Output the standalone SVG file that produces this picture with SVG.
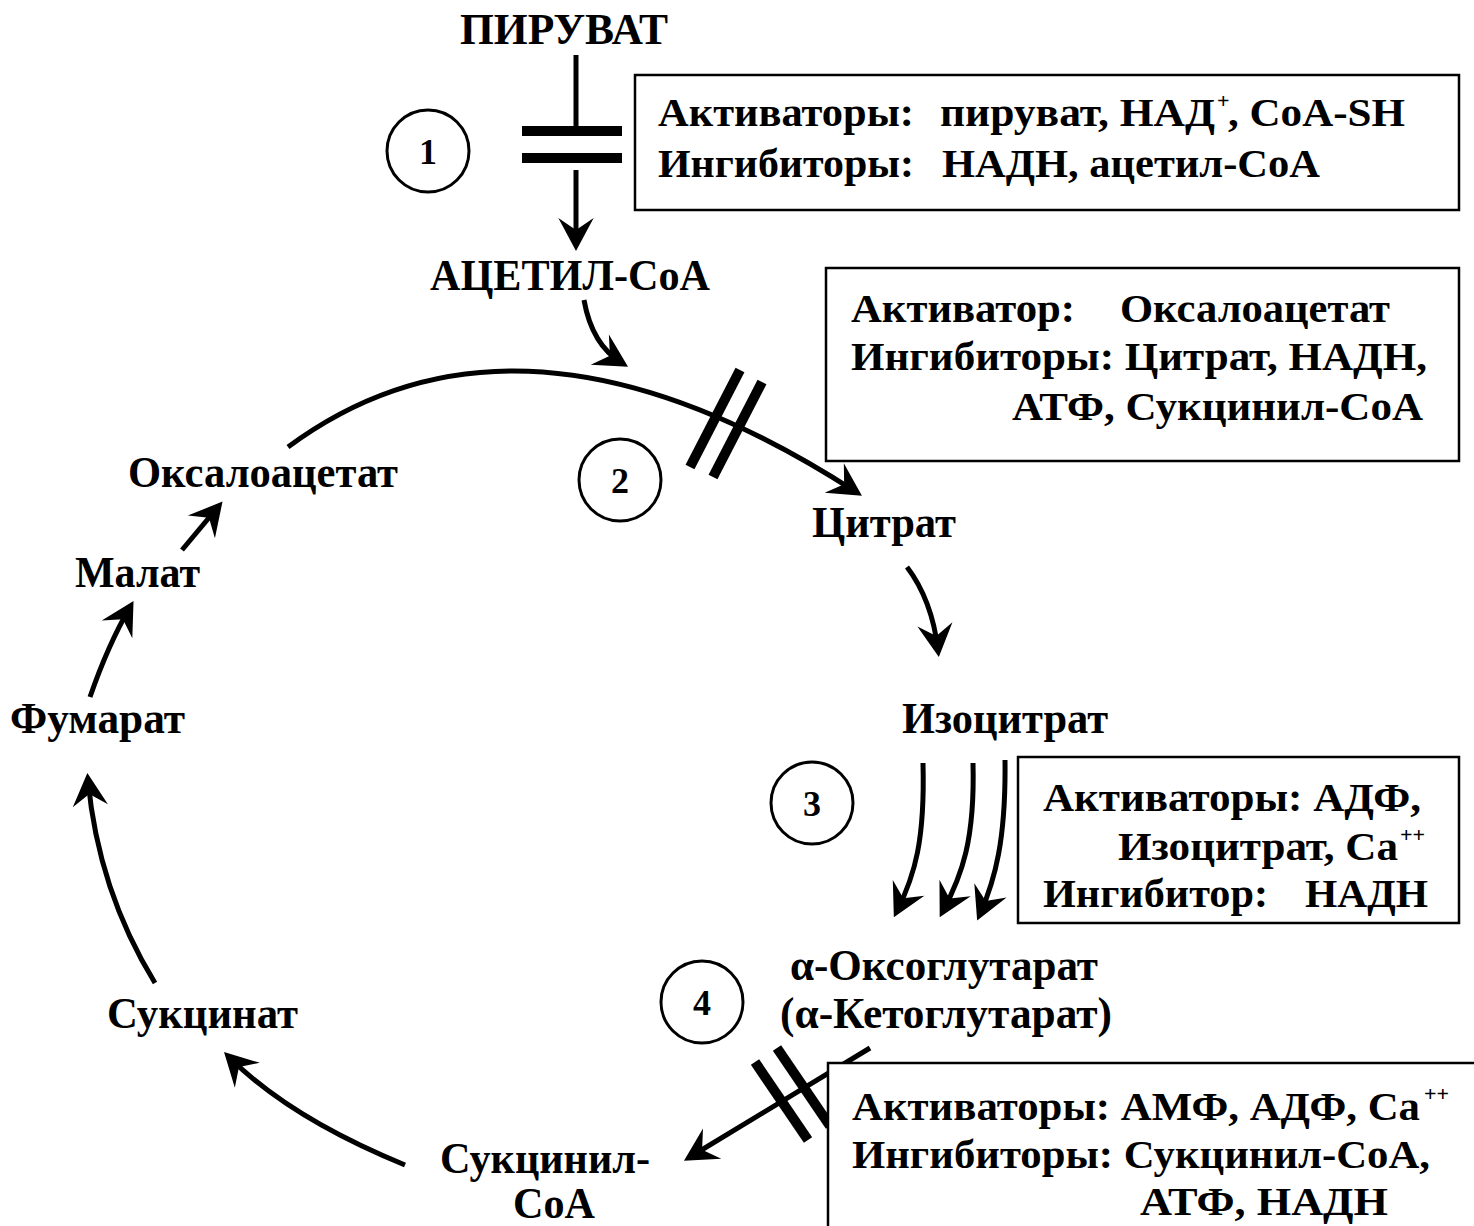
<svg xmlns="http://www.w3.org/2000/svg" width="1474" height="1226" viewBox="0 0 1474 1226">
<defs>
<style>
text{font-family:"Liberation Serif","Times New Roman",serif;font-weight:bold;fill:#000}
.lbl{font-size:44px}
.box{font-size:40px}
.num{font-size:36px;text-anchor:middle}
.sup{font-size:22px}
.c{fill:none;stroke:#000;stroke-width:5}
.bar{stroke:#000;stroke-width:10}
.frame{fill:#fff;stroke:#000;stroke-width:2.5}
.circ{fill:#fff;stroke:#000;stroke-width:3}
</style>
<marker id="ah" markerUnits="userSpaceOnUse" markerWidth="40" markerHeight="40" viewBox="-24 -16 34 32" refX="0" refY="0" orient="auto">
<path d="M6,0 L-22,-15 L-12,0 L-22,15 Z" fill="#000"/>
</marker>
</defs>
<rect width="1474" height="1226" fill="#fff"/>

<g id="connectors">
<line class="c" x1="576" y1="55" x2="576" y2="128"/>
<line class="bar" x1="522" y1="131" x2="622" y2="131"/>
<line class="bar" x1="522" y1="158" x2="622" y2="158"/>
<path class="c" d="M576,170 L576,244" marker-end="url(#ah)"/>
<path class="c" d="M584,300 Q592,345 622,363" marker-end="url(#ah)"/>
<path class="c" d="M288,447 Q520,275 856,492" marker-end="url(#ah)"/>
<line class="bar" x1="740" y1="370" x2="690" y2="467"/>
<line class="bar" x1="762" y1="382" x2="713" y2="477"/>
<path class="c" d="M907,567 Q932,600 938,650" marker-end="url(#ah)"/>
<path class="c" d="M923,763 C925,840 915,875 897,911" marker-end="url(#ah)"/>
<path class="c" d="M973,763 C975,840 962,875 943,911" marker-end="url(#ah)"/>
<path class="c" d="M1005,760 C1006,840 995,880 980,914" marker-end="url(#ah)"/>
<path class="c" d="M870,1048 L690,1157" marker-end="url(#ah)"/>
<line class="bar" x1="755" y1="1062" x2="808" y2="1140"/>
<line class="bar" x1="777" y1="1048" x2="830" y2="1126"/>
<path class="c" d="M405,1165 Q290,1118 229,1057" marker-end="url(#ah)"/>
<path class="c" d="M155,983 Q98,890 88,780" marker-end="url(#ah)"/>
<path class="c" d="M90,697 Q108,645 130,607" marker-end="url(#ah)"/>
<path class="c" d="M182,550 L218,507" marker-end="url(#ah)"/>
</g>

<g id="pyruvate"><text class="lbl" x="460" y="44" textLength="208" lengthAdjust="spacingAndGlyphs">ПИРУВАТ</text></g>
<g id="acetylcoa"><text class="lbl" x="430" y="290" textLength="280" lengthAdjust="spacingAndGlyphs">АЦЕТИЛ-CoA</text></g>
<g id="oxaloacetate"><text class="lbl" x="128" y="487" textLength="270" lengthAdjust="spacingAndGlyphs">Оксалоацетат</text></g>
<g id="citrate"><text class="lbl" x="812" y="537" textLength="144" lengthAdjust="spacingAndGlyphs">Цитрат</text></g>
<g id="malate"><text class="lbl" x="75" y="587" textLength="125" lengthAdjust="spacingAndGlyphs">Малат</text></g>
<g id="fumarate"><text class="lbl" x="10" y="733" textLength="175" lengthAdjust="spacingAndGlyphs">Фумарат</text></g>
<g id="isocitrate"><text class="lbl" x="902" y="733" textLength="206" lengthAdjust="spacingAndGlyphs">Изоцитрат</text></g>
<g id="oxoglutarate">
<text class="lbl" x="790" y="980" textLength="308" lengthAdjust="spacingAndGlyphs">α-Оксоглутарат</text>
<text class="lbl" x="780" y="1028" textLength="332" lengthAdjust="spacingAndGlyphs">(α-Кетоглутарат)</text>
</g>
<g id="succinate"><text class="lbl" x="107" y="1028" textLength="191" lengthAdjust="spacingAndGlyphs">Сукцинат</text></g>
<g id="succinylcoa">
<text class="lbl" x="440" y="1173" textLength="210" lengthAdjust="spacingAndGlyphs">Сукцинил-</text>
<text class="lbl" x="513" y="1218" font-size="42" textLength="82" lengthAdjust="spacingAndGlyphs">CoA</text>
</g>

<g id="step1"><circle class="circ" cx="428" cy="151" r="41"/><text class="num" x="428" y="164">1</text></g>
<g id="step2"><circle class="circ" cx="620" cy="480" r="41"/><text class="num" x="620" y="493">2</text></g>
<g id="step3"><circle class="circ" cx="812" cy="803" r="41"/><text class="num" x="812" y="816">3</text></g>
<g id="step4"><circle class="circ" cx="702" cy="1002" r="41"/><text class="num" x="702" y="1015">4</text></g>

<g id="box1">
<rect class="frame" x="635" y="75" width="824" height="135"/>
<text class="box" x="658" y="126" textLength="256" lengthAdjust="spacingAndGlyphs">Активаторы:</text>
<text class="box" x="940" y="126" textLength="275" lengthAdjust="spacingAndGlyphs">пируват, НАД</text>
<text class="sup" x="1217" y="108">+</text>
<text class="box" x="1228" y="126" textLength="177" lengthAdjust="spacingAndGlyphs">, CoA-SH</text>
<text class="box" x="658" y="177" textLength="256" lengthAdjust="spacingAndGlyphs">Ингибиторы:</text>
<text class="box" x="942" y="177" textLength="378" lengthAdjust="spacingAndGlyphs">НАДН, ацетил-CoA</text>
</g>

<g id="box2">
<rect class="frame" x="826" y="268" width="633" height="193"/>
<text class="box" x="851" y="322" textLength="224" lengthAdjust="spacingAndGlyphs">Активатор:</text>
<text class="box" x="1120" y="322" textLength="270" lengthAdjust="spacingAndGlyphs">Оксалоацетат</text>
<text class="box" x="851" y="370" textLength="576" lengthAdjust="spacingAndGlyphs">Ингибиторы: Цитрат, НАДН,</text>
<text class="box" x="1012" y="420" textLength="411" lengthAdjust="spacingAndGlyphs">АТФ, Сукцинил-CoA</text>
</g>

<g id="box3">
<rect class="frame" x="1018" y="757" width="441" height="166"/>
<text class="box" x="1043" y="811" textLength="378" lengthAdjust="spacingAndGlyphs">Активаторы: АДФ,</text>
<text class="box" x="1118" y="860" textLength="280" lengthAdjust="spacingAndGlyphs">Изоцитрат, Ca</text>
<text class="sup" x="1400" y="842">++</text>
<text class="box" x="1043" y="907" textLength="225" lengthAdjust="spacingAndGlyphs">Ингибитор:</text>
<text class="box" x="1305" y="907" textLength="123" lengthAdjust="spacingAndGlyphs">НАДН</text>
</g>

<g id="box4">
<rect class="frame" x="828" y="1063" width="660" height="180"/>
<text class="box" x="852" y="1120" textLength="568" lengthAdjust="spacingAndGlyphs">Активаторы: АМФ, АДФ, Ca</text>
<text class="sup" x="1424" y="1101">++</text>
<text class="box" x="852" y="1168" textLength="578" lengthAdjust="spacingAndGlyphs">Ингибиторы: Сукцинил-CoA,</text>
<text class="box" x="1140" y="1215" textLength="248" lengthAdjust="spacingAndGlyphs">АТФ, НАДН</text>
</g>
</svg>
